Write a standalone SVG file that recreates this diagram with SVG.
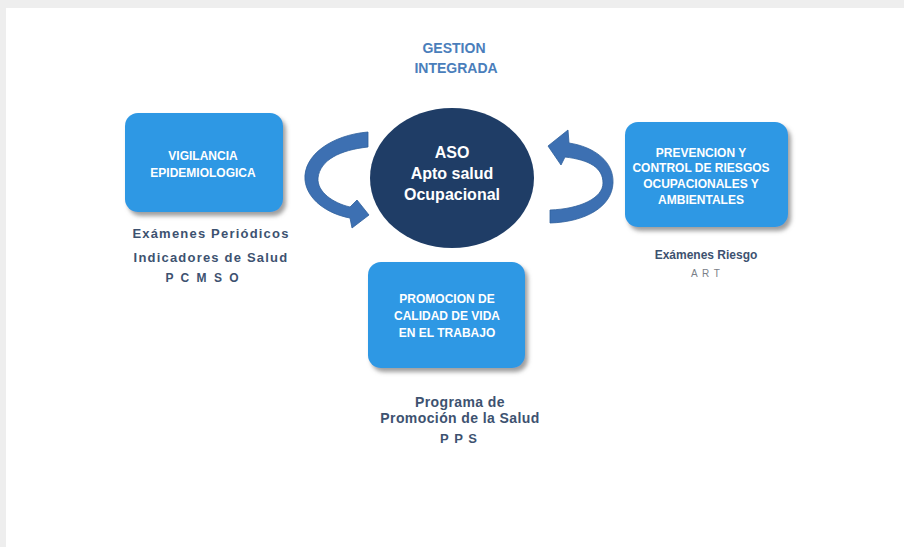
<svg xmlns="http://www.w3.org/2000/svg" width="904" height="547" viewBox="0 0 904 547">
<style>
.box{fill:#2f98e4;filter:url(#sh)}
.bt{font-family:"Liberation Sans",Arial,sans-serif;font-weight:bold;font-size:12px;fill:#ffffff;text-anchor:middle}
.et{font-family:"Liberation Sans",Arial,sans-serif;font-weight:bold;font-size:16px;fill:#ffffff;text-anchor:middle}
.tt{font-family:"Liberation Sans",Arial,sans-serif;font-weight:bold;font-size:14px;fill:#4a7ebb;text-anchor:middle}
.lb{font-family:"Liberation Sans",Arial,sans-serif;font-weight:bold;fill:#3d5270;text-anchor:middle}
.arr{fill:#3d70b2;stroke:#2f5f9c;stroke-width:0.8}
</style>
<defs>
<filter id="sh" x="-10%" y="-10%" width="125%" height="130%">
<feDropShadow dx="3" dy="4" stdDeviation="2" flood-color="#7f7f7f" flood-opacity="0.75"/>
</filter>
</defs>
<rect x="0" y="0" width="904" height="547" fill="#ffffff"/>
<rect x="0" y="0" width="904" height="8" fill="#eeeeee"/>
<rect x="0" y="0" width="6" height="547" fill="#eeeeee"/>

<g id="title">
<text class="tt" x="454" y="53">GESTION</text>
<text class="tt" x="456" y="73">INTEGRADA</text>
</g>

<g id="connectors">
<path class="arr" d="M368,132 C332,135 303,155 305,180 C307,200 328,214 350,218 L352,228 L369,215 L357,200 L350,207 C333,203 317,192 318,178 C320,160 340,150 368,147 Z"/>
<path class="arr" d="M550,210 C580,209 603,198 603,183 C603,168 590,160 565,157 L561,165 L548,146 L568,130 L569,143 C595,147 614,162 613,183 C612,207 585,222 550,223 Z"/>
</g>

<g id="aso">
<ellipse cx="452" cy="178" rx="82" ry="70" fill="#1f3d66"/>
<text class="et" x="452" y="158">ASO</text>
<text class="et" x="452" y="179">Apto salud</text>
<text class="et" x="452" y="200">Ocupacional</text>
</g>

<g id="vigilancia">
<rect class="box" x="125" y="113" width="158" height="99" rx="13"/>
<text class="bt" x="203" y="160">VIGILANCIA</text>
<text class="bt" x="203" y="177">EPIDEMIOLOGICA</text>
<text class="lb" x="211" y="238" font-size="13" letter-spacing="1.2">Exámenes Periódicos</text>
<text class="lb" x="211" y="262" font-size="13" letter-spacing="1.2">Indicadores de Salud</text>
<text class="lb" x="203" y="282" font-size="12" letter-spacing="2" fill="#4a5d7a">P C M S O</text>
</g>

<g id="prevencion">
<rect class="box" x="625" y="122" width="163" height="105" rx="13"/>
<text class="bt" x="701" y="157">PREVENCION Y</text>
<text class="bt" x="701" y="172">CONTROL DE RIESGOS</text>
<text class="bt" x="701" y="188">OCUPACIONALES Y</text>
<text class="bt" x="701" y="204">AMBIENTALES</text>
<text class="lb" x="706" y="259" font-size="12" fill="#333f50">Exámenes Riesgo</text>
<text x="706" y="277" font-family="Liberation Sans, Arial, sans-serif" font-size="10" fill="#7a7f88" text-anchor="middle" letter-spacing="1">A R T</text>
</g>

<g id="promocion">
<rect class="box" x="368" y="262" width="157" height="106" rx="13"/>
<text class="bt" x="447" y="303">PROMOCION DE</text>
<text class="bt" x="447" y="320">CALIDAD DE VIDA</text>
<text class="bt" x="447" y="337">EN EL TRABAJO</text>
<text class="lb" x="460" y="407" font-size="14" letter-spacing="0.4">Programa de</text>
<text class="lb" x="460" y="423" font-size="14" letter-spacing="0.4">Promoción de la Salud</text>
<text class="lb" x="459" y="443" font-size="13" letter-spacing="1">P P S</text>
</g>
</svg>
